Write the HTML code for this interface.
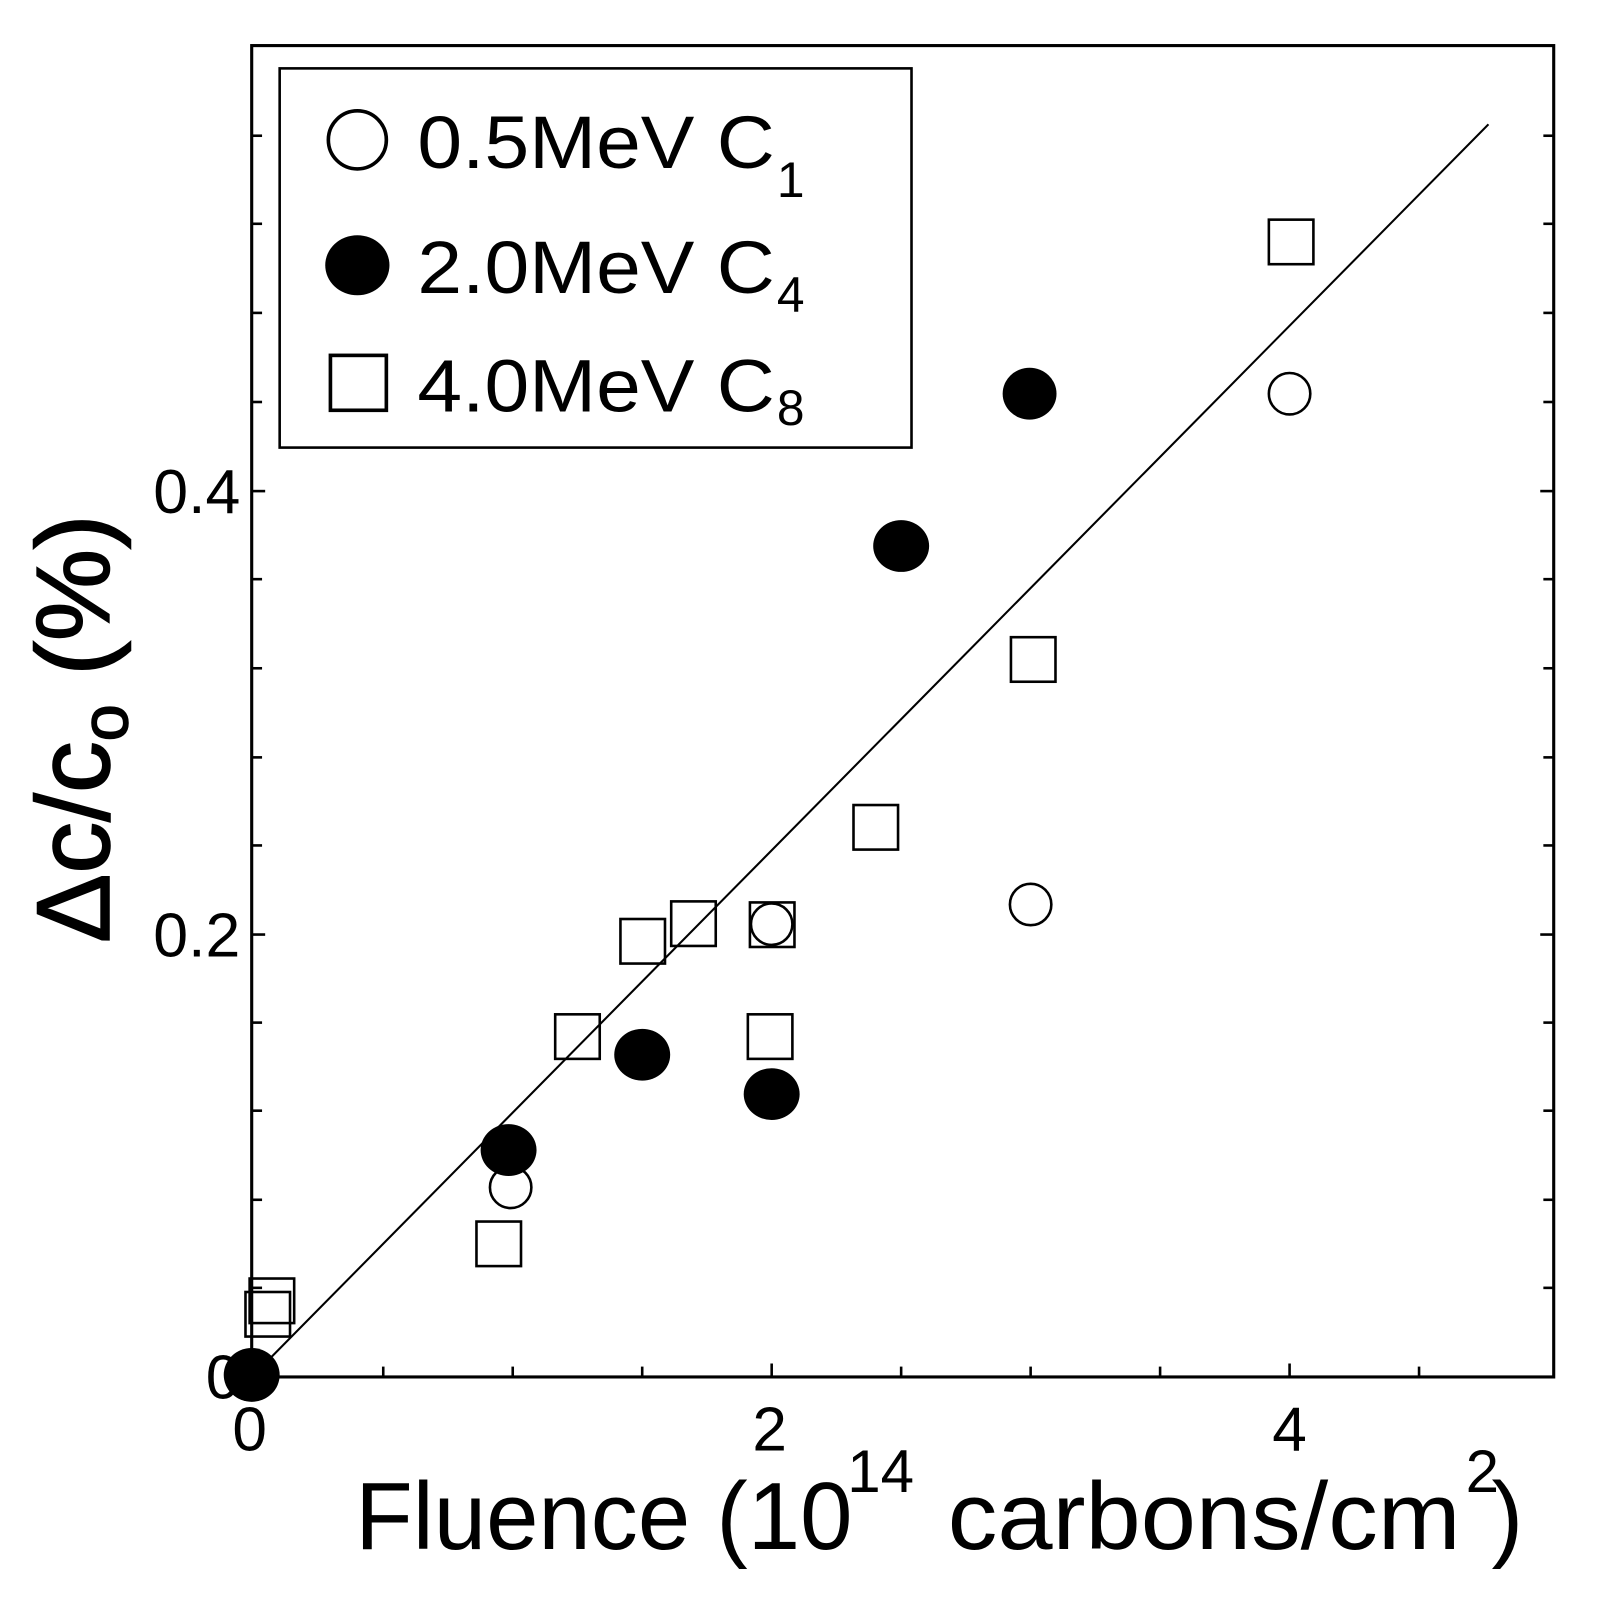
<!DOCTYPE html>
<html><head><meta charset="utf-8"><style>html,body{margin:0;padding:0;background:#fff}svg{display:block}</style></head>
<body>
<svg width="1620" height="1608" viewBox="0 0 1564 1552" preserveAspectRatio="none" xmlns="http://www.w3.org/2000/svg" font-family="Liberation Sans, Arial, sans-serif">
<rect x="243" y="44" width="1257" height="1285" fill="none" stroke="#000" stroke-width="3"/>
<g stroke="#000" stroke-width="2.5">
<line x1="243" y1="1243" x2="253" y2="1243"/><line x1="1500" y1="1243" x2="1490" y2="1243"/>
<line x1="243" y1="1158" x2="253" y2="1158"/><line x1="1500" y1="1158" x2="1490" y2="1158"/>
<line x1="243" y1="1072" x2="253" y2="1072"/><line x1="1500" y1="1072" x2="1490" y2="1072"/>
<line x1="243" y1="987" x2="253" y2="987"/><line x1="1500" y1="987" x2="1490" y2="987"/>
<line x1="243" y1="902" x2="256" y2="902"/><line x1="1500" y1="902" x2="1487" y2="902"/>
<line x1="243" y1="816" x2="253" y2="816"/><line x1="1500" y1="816" x2="1490" y2="816"/>
<line x1="243" y1="731" x2="253" y2="731"/><line x1="1500" y1="731" x2="1490" y2="731"/>
<line x1="243" y1="645" x2="253" y2="645"/><line x1="1500" y1="645" x2="1490" y2="645"/>
<line x1="243" y1="559" x2="253" y2="559"/><line x1="1500" y1="559" x2="1490" y2="559"/>
<line x1="243" y1="474" x2="256" y2="474"/><line x1="1500" y1="474" x2="1487" y2="474"/>
<line x1="243" y1="388" x2="253" y2="388"/><line x1="1500" y1="388" x2="1490" y2="388"/>
<line x1="243" y1="302" x2="253" y2="302"/><line x1="1500" y1="302" x2="1490" y2="302"/>
<line x1="243" y1="216" x2="253" y2="216"/><line x1="1500" y1="216" x2="1490" y2="216"/>
<line x1="243" y1="131" x2="253" y2="131"/><line x1="1500" y1="131" x2="1490" y2="131"/>
<line x1="370" y1="1329" x2="370" y2="1319"/><line x1="495" y1="1329" x2="495" y2="1319"/>
<line x1="620" y1="1329" x2="620" y2="1319"/><line x1="745" y1="1329" x2="745" y2="1316"/>
<line x1="870" y1="1329" x2="870" y2="1319"/><line x1="995" y1="1329" x2="995" y2="1319"/>
<line x1="1120" y1="1329" x2="1120" y2="1319"/><line x1="1245" y1="1329" x2="1245" y2="1316"/>
<line x1="1370" y1="1329" x2="1370" y2="1319"/>
</g>
<line x1="243" y1="1329" x2="1437" y2="120" stroke="#000" stroke-width="2"/>
<g font-size="60" fill="#000">
<text x="232" y="495" text-anchor="end" textLength="84" lengthAdjust="spacingAndGlyphs">0.4</text>
<text x="232" y="923" text-anchor="end" textLength="84" lengthAdjust="spacingAndGlyphs">0.2</text>
<text x="232" y="1350" text-anchor="end">0</text>
<text x="241" y="1400" text-anchor="middle">0</text>
<text x="743" y="1400" text-anchor="middle">2</text>
<text x="1245" y="1400" text-anchor="middle">4</text>
</g>
<text x="343" y="1495" font-size="92" textLength="480" lengthAdjust="spacingAndGlyphs">Fluence (10</text>
<text x="818" y="1440" font-size="58">14</text>
<text x="915" y="1495" font-size="92" textLength="495" lengthAdjust="spacingAndGlyphs">carbons/cm</text>
<text x="1415" y="1440" font-size="58">2</text>
<text x="1440" y="1495" font-size="92">)</text>
<text transform="translate(105,910) rotate(-90)" font-size="100" stroke="#000" stroke-width="1.5">Δc/c<tspan dy="18" font-size="64">o</tspan><tspan dy="-18"> (%)</tspan></text>
<rect x="270" y="66" width="610" height="366" fill="#fff" stroke="#000" stroke-width="2.5"/>
<circle cx="345" cy="135" r="28" fill="none" stroke="#000" stroke-width="3.5"/>
<ellipse cx="345" cy="256" rx="31" ry="29" fill="#000"/>
<rect x="319" y="343" width="54" height="53" fill="none" stroke="#000" stroke-width="3.5"/>
<g font-size="72" fill="#000">
<text x="403" y="162" textLength="345" lengthAdjust="spacingAndGlyphs">0.5MeV C</text><text x="750" y="190" font-size="48">1</text>
<text x="403" y="283" textLength="345" lengthAdjust="spacingAndGlyphs">2.0MeV C</text><text x="750" y="301" font-size="48">4</text>
<text x="403" y="397" textLength="345" lengthAdjust="spacingAndGlyphs">4.0MeV C</text><text x="750" y="410" font-size="48">8</text>
</g>
<g fill="none" stroke="#000" stroke-width="2.5">
<rect x="1225" y="212" width="43" height="43"/>
<rect x="976" y="615" width="43" height="43"/>
<rect x="824" y="777" width="43" height="43"/>
<rect x="648" y="870" width="43" height="43"/>
<rect x="599" y="887" width="43" height="43"/>
<rect x="724" y="871" width="43" height="43"/>
<rect x="536" y="979" width="43" height="43"/>
<rect x="722" y="979" width="43" height="43"/>
<rect x="460" y="1179" width="43" height="43"/>
<rect x="241" y="1234" width="43" height="43"/>
<rect x="237" y="1247" width="43" height="43"/>
<circle cx="1245" cy="380" r="20"/>
<circle cx="995" cy="873" r="20"/>
<circle cx="745" cy="892" r="20"/>
<circle cx="493" cy="1146" r="20"/>
</g>
<g fill="#000">
<ellipse cx="994" cy="380" rx="26" ry="25"/>
<ellipse cx="870" cy="527" rx="27" ry="25"/>
<ellipse cx="620" cy="1018" rx="27" ry="25"/>
<ellipse cx="745" cy="1056" rx="27" ry="25"/>
<ellipse cx="491" cy="1110" rx="27" ry="25"/>
<ellipse cx="243" cy="1327" rx="27" ry="26"/>
</g>
</svg>
</body></html>
